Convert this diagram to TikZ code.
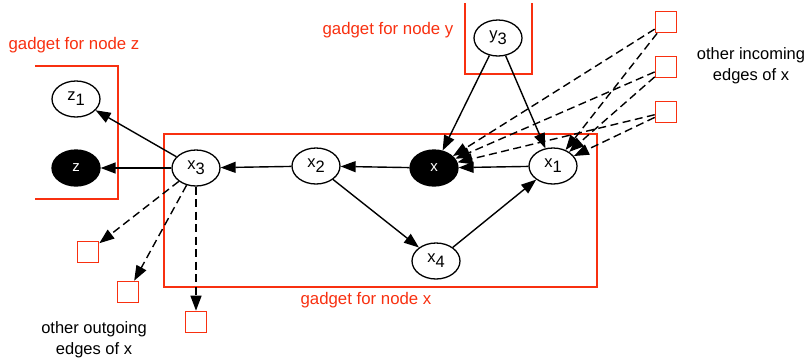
\documentclass[tikz,border=0pt]{standalone}
\usepackage{fontspec}
\setmainfont{Liberation Sans}
\usetikzlibrary{shapes.geometric,arrows.meta}
\definecolor{gadgetred}{RGB}{248,48,16}
\tikzset{
  var/.style={ellipse,draw,line width=1.3pt,minimum width=48pt,minimum height=36pt,inner sep=0pt,
    font=\fontsize{16.5}{18}\selectfont},
  obs/.style={var,fill=black,text=white,font=\fontsize{15}{17}\selectfont},
  stub/.style={draw=gadgetred,line width=1.6pt,minimum width=21pt,minimum height=21pt,inner sep=0pt},
  edge/.style={line width=1.4pt,-{Triangle[length=15pt,width=11pt]}},
  dedge/.style={edge,dash pattern=on 8pt off 4.5pt},
  gadget/.style={draw=gadgetred,line width=1.6pt},
  glabel/.style={text=gadgetred,font=\fontsize{16.8}{18}\selectfont},
  note/.style={align=center,font=\fontsize{16.5}{21}\selectfont}
}
\newcommand{\sub}[2]{#1\raisebox{-0.55ex}{#2}}
\begin{document}
\begin{tikzpicture}[x=1pt,y=-1pt]
\useasboundingbox (0,0) rectangle (808,362);

% gadget frames
\draw[gadget] (35,66) -- (118,66) -- (118,199) -- (35,199);
\draw[gadget] (164,134) rectangle (597,287);
\draw[gadget] (465,3) -- (465,74) -- (532,74) -- (532,3);

\node[glabel] (lz) at (74,45) {gadget for node z};
\node[glabel] (ly) at (388,30) {gadget for node y};
\node[glabel] (lx) at (366,300) {gadget for node x};

% variables
\node[var] (z1) at (76,99) {\sub{z}{1}};
\node[obs] (z) at (76,168) {z};
\node[var] (x3) at (196,168) {\sub{x}{3}};
\node[var] (x2) at (316,166) {\sub{x}{2}};
\node[obs] (x) at (434,168) {x};
\node[var] (x1) at (553,166) {\sub{x}{1}};
\node[var] (x4) at (436,261) {\sub{x}{4}};
\node[var] (y3) at (498,38) {\sub{y}{3}};

% placeholder endpoints for other edges
\node[stub] (i1) at (666,22) {};
\node[stub] (i2) at (666,67) {};
\node[stub] (i3) at (666,112) {};
\node[stub] (o1) at (88,252) {};
\node[stub] (o2) at (128,292) {};
\node[stub] (o3) at (196,322) {};

\node[note] (nin) at (751,66) {other incoming\\edges of x};
\node[note] (nout) at (94,340) {other outgoing\\edges of x};

% edges
\draw[edge] (x3) -- (z1);
\draw[edge] (x3) -- (z);
\draw[edge] (x2) -- (x3);
\draw[edge] (x) -- (x2);
\draw[edge] (x1) -- (x);
\draw[edge] (x2) -- (x4);
\draw[edge] (x4) -- (x1);
\draw[edge] (y3) -- (x);
\draw[edge] (y3) -- (x1);

\foreach \s in {i1,i2,i3} {
  \draw[dedge] (\s) -- (x);
  \draw[dedge] (\s) -- (x1);
}
\draw[dedge] (x3) -- (o1);
\draw[dedge] (x3) -- (o2);
\draw[dedge] (x3) -- (o3);
\end{tikzpicture}
\end{document}
